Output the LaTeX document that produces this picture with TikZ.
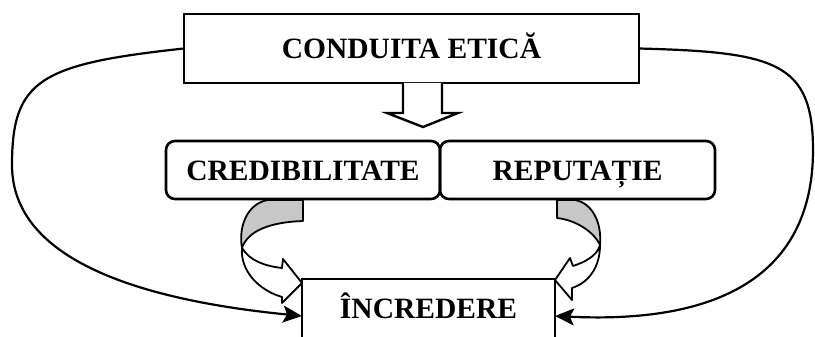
\documentclass[tikz,border=0pt]{standalone}
\usepackage{fontspec}
\setmainfont{Liberation Serif}
\usepackage{tikz}
\usetikzlibrary{arrows.meta}

\tikzset{
  box/.style={draw, line width=2.6pt, inner sep=0pt, outer sep=0pt, text height=20pt, text depth=0pt},
  roundbox/.style={box, rounded corners=9pt},
  feedback/.style={line width=2.2pt, -{Stealth[length=19pt,width=17pt,inset=4pt]}},
  curvedarrow/.style={line width=1.8pt, line join=round},
}

\begin{document}
\begin{tikzpicture}[x=1pt, y=-1pt, font=\fontsize{29.5}{34}\selectfont\bfseries]
    \useasboundingbox (0,0) rectangle (815,337);

    \node (etica) [box, minimum width=455pt, minimum height=69pt] at (411.5, 48.5) {CONDUITA ETICĂ};
    \node (cred) [roundbox, minimum width=274pt, minimum height=58pt] at (303, 170) {CREDIBILITATE};
    \node (rep) [roundbox, minimum width=275pt, minimum height=58pt] at (577.5, 170) {REPUTAȚIE};
    \node (incr) [box, minimum width=253pt, minimum height=64pt, text depth=6pt] at (428.5, 311) {ÎNCREDERE};

    % hollow arrow
    \draw[line width=2.4pt, line join=miter, fill=white]
        (403, 83) -- (403, 113) -- (387, 113) -- (423, 127) -- (458, 113) -- (442, 113) -- (442, 83);

    % curved arrow left
    \draw[curvedarrow, fill=black!22] (268, 200) -- (303, 200) -- (303, 221)
        .. controls (272, 222) and (248, 230) .. (242, 248)
        .. controls (238, 226) and (248, 203) .. cycle;
    \draw[curvedarrow, fill=white] (242, 248)
        .. controls (250, 261) and (265, 266) .. (282, 268)
        -- (283, 259) -- (302, 283) -- (282, 303) -- (282, 297)
        .. controls (258, 290) and (240, 270) .. cycle;

    % curved arrow right
    \draw[curvedarrow, fill=black!22] (557, 200) -- (575, 200)
        .. controls (592, 203) and (602, 222) .. (600, 245)
        .. controls (594, 232) and (576, 220) .. (557, 218) -- cycle;
    \draw[curvedarrow, fill=white] (600, 245)
        .. controls (600, 266) and (590, 282) .. (572, 288)
        -- (572, 300) -- (555, 280) -- (570, 258) -- (573, 266)
        .. controls (585, 262) and (597, 256) .. cycle;

    \draw[feedback] (etica.west) .. controls (40, 64) and (12, 80) .. (12, 165)
        .. controls (12, 260) and (140, 300) .. ([yshift=-5pt]incr.west);
    \draw[feedback] (etica.east) .. controls (775, 52) and (813, 62) .. (813, 150)
        .. controls (813, 260) and (740, 325) .. ([yshift=-5pt]incr.east);
\end{tikzpicture}
\end{document}
